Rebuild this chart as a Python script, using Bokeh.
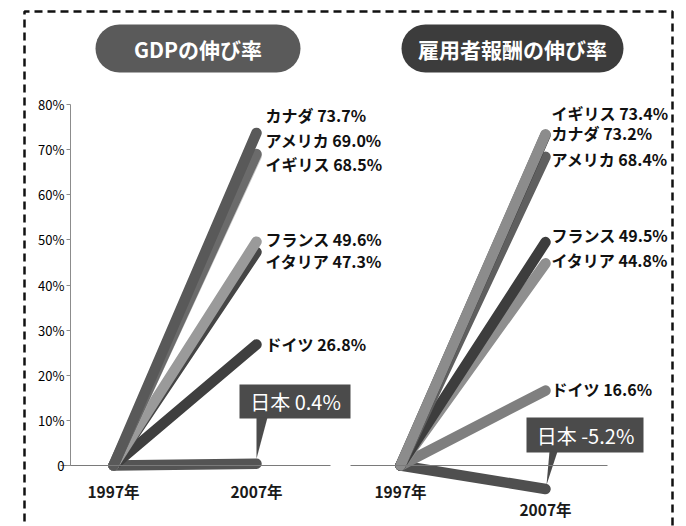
from bokeh.plotting import figure
from bokeh.models import Range1d, LinearAxis, FixedTicker, BoxAnnotation, ColumnDataSource, Grid
from bokeh.core.properties import value
from bokeh.embed import file_html
from bokeh.resources import INLINE

# ---------------- data ----------------
years = [1997, 2007]
year_labels = ["1997年", "2007年"]

gdp_countries = ["日本", "ドイツ", "イタリア", "フランス", "イギリス", "アメリカ", "カナダ"]
gdp_growth = [0.4, 26.8, 47.3, 49.6, 68.5, 69.0, 73.7]

comp_countries = ["日本", "ドイツ", "イタリア", "フランス", "アメリカ", "カナダ", "イギリス"]
comp_growth = [-5.2, 16.6, 44.8, 49.5, 68.4, 73.2, 73.4]

y_ticks = [0, 10, 20, 30, 40, 50, 60, 70, 80]
y_tick_labels = ["0", "10%", "20%", "30%", "40%", "50%", "60%", "70%", "80%"]

panel_titles = ["GDPの伸び率", "雇用者報酬の伸び率"]

# ---------------- styles / layout ----------------
FONT = "Noto Sans CJK JP"
gdp_colors = ["#545454", "#3f3f3f", "#454545", "#9a9a9a", "#c6c6c6", "#6b6b6b", "#595959"]
comp_colors = ["#4f4f4f", "#7f7f7f", "#8f8f8f", "#3d3d3d", "#5f5f5f", "#303030", "#8c8c8c"]
# label nudges in pixels (screen y, down positive), Japan uses a callout
gdp_label_dy = [0, -1, 9, -3, 8, -14, -18]
comp_label_dy = [0, -2, -3, -7, 2, -2, -21]

W, H = 686, 526
Y0_PX, PX_PER_PCT = 465.0, 4.5125
L_X0, L_KX = 113.0, 14.3
R_X0, R_KX = 400.0, 14.5


def ly(py):
    return (Y0_PX - py) / PX_PER_PCT


def lx(px):
    return years[0] + (px - L_X0) / L_KX


def rx(px):
    return years[0] + (px - R_X0) / R_KX


p = figure(width=W, height=H, output_backend="svg", toolbar_location=None,
           x_range=Range1d(lx(0), lx(W)), y_range=Range1d(ly(H), ly(0)),
           x_axis_location=None, y_axis_location=None, min_border=0,
           background_fill_color="white", border_fill_color="white")
p.outline_line_color = None
p.extra_x_ranges = {"r": Range1d(rx(0), rx(W))}

# dashed frame
p.line([lx(24), lx(24), lx(672), lx(672)], [ly(560), ly(11), ly(11), ly(560)],
       line_color="#111111", line_width=2.5, line_dash="8 5")

# title pills
pill_specs = [(95, 300, "#5a5a5a"), (401, 623, "#3c3c3c")]
for (a, b, c) in pill_specs:
    p.add_layout(BoxAnnotation(left=lx(a), right=lx(b), top=ly(24), bottom=ly(72),
                               fill_color=c, fill_alpha=1, line_color=None, border_radius=24,
                               level="underlay"))
p.text(x=[lx((a + b) / 2) for a, b, _ in pill_specs], y=[ly(48)] * 2, text=panel_titles,
       text_color="white", text_font=value(FONT), text_font_style="bold",
       text_font_size="21px", text_align="center", text_baseline="middle", level="overlay")

# ---------------- axes ----------------
ya = LinearAxis(fixed_location=lx(70), bounds=(y_ticks[0], y_ticks[-1]),
                ticker=FixedTicker(ticks=y_ticks, minor_ticks=[]),
                major_label_overrides={t: s for t, s in zip(y_ticks, y_tick_labels)})
ya.axis_line_color = "#8c8c8c"
ya.major_tick_line_color = "#8c8c8c"
ya.major_tick_out = 4
ya.major_tick_in = 0
ya.minor_tick_line_color = None
ya.major_label_text_font = FONT
ya.major_label_text_font_size = "13px"
ya.major_label_text_color = "#000000"
ya.major_label_standoff = 2
p.add_layout(ya, "left")


def style_x(ax):
    ax.axis_line_color = "#7a7a7a"
    ax.major_tick_line_color = None
    ax.major_tick_out = 0
    ax.major_tick_in = 0
    ax.minor_tick_line_color = None
    ax.major_label_text_font = FONT
    ax.major_label_text_font_style = "bold"
    ax.major_label_text_font_size = "15.5px"
    ax.major_label_text_color = "#1a1a1a"
    ax.major_label_standoff = 14


xa_l = LinearAxis(fixed_location=0, bounds=(lx(60), lx(330)),
                  ticker=FixedTicker(ticks=years, minor_ticks=[]),
                  major_label_overrides={y: s for y, s in zip(years, year_labels)})
style_x(xa_l)
p.add_layout(xa_l, "below")

xa_r = LinearAxis(x_range_name="r", fixed_location=0, bounds=(rx(350), rx(607)),
                  ticker=FixedTicker(ticks=[years[0]], minor_ticks=[]),
                  major_label_overrides={years[0]: year_labels[0]})
style_x(xa_r)
p.add_layout(xa_r, "below")

for g in p.select(type=Grid):
    g.visible = False

# right panel: 2007 label placed under Japan's end point
p.text(x=[years[1]], y=[min(0, min(comp_growth))], text=[year_labels[1]], x_range_name="r",
       y_offset=20, text_color="#1a1a1a", text_font=value(FONT), text_font_style="bold",
       text_font_size="15.5px", text_align="center", text_baseline="middle")

# ---------------- lines ----------------
for names, vals, cols, rng in [(gdp_countries, gdp_growth, gdp_colors, "default"),
                               (comp_countries, comp_growth, comp_colors, "r")]:
    n = len(vals)
    src = ColumnDataSource(dict(x0=[years[0]] * n, y0=[0] * n, x1=[years[1]] * n,
                                y1=vals, color=cols))
    p.segment("x0", "y0", "x1", "y1", source=src, line_color="color", line_width=10.5,
              line_cap="round", x_range_name=rng)

# ---------------- country labels ----------------
for names, vals, dys, rng, xoff in [(gdp_countries, gdp_growth, gdp_label_dy, "default", 9),
                                    (comp_countries, comp_growth, comp_label_dy, "r", 6)]:
    idx = [i for i, c in enumerate(names) if c != "日本"]
    p.text(x=[years[1]] * len(idx), y=[vals[i] for i in idx],
           text=[f"{names[i]} {vals[i]:.1f}%" for i in idx],
           y_offset=[dys[i] for i in idx], x_offset=xoff, x_range_name=rng,
           text_color="#111111", text_font=value(FONT), text_font_style="bold",
           text_font_size="16px", text_align="left", text_baseline="middle")

# ---------------- Japan callouts ----------------
BOX_COLOR = "#4b4b4b"
jp_l = gdp_growth[gdp_countries.index("日本")]
jp_r = comp_growth[comp_countries.index("日本")]

# left callout (box in pixel layout, tip at data point)
p.quad(left=[lx(239)], right=[lx(350)], top=[ly(384)], bottom=[ly(418)],
       fill_color=BOX_COLOR, line_color=None)
tip_l_y = jp_l + 5 / PX_PER_PCT
p.patch([years[1], years[1] + 11 / L_KX, years[1]], [ly(417), ly(417), tip_l_y],
        fill_color=BOX_COLOR, line_color=None)
p.text(x=[lx(295)], y=[ly(401)], text=[f"日本 {jp_l:.1f}%"], text_color="white",
       text_font=value(FONT), text_font_size="20px", text_align="center",
       text_baseline="middle")

# right callout
p.quad(left=[rx(526)], right=[rx(643)], top=[ly(417)], bottom=[ly(452)],
       fill_color=BOX_COLOR, line_color=None, x_range_name="r")
tip_r_y = jp_r + 4 / PX_PER_PCT
p.patch([years[1] + 4 / R_KX, years[1] + 12 / R_KX, years[1] + 1 / R_KX],
        [ly(451), ly(451), tip_r_y], fill_color=BOX_COLOR, line_color=None, x_range_name="r")
p.text(x=[rx(585)], y=[ly(434.5)], text=[f"日本 {jp_r:.1f}%"], text_color="white",
       text_font=value(FONT), text_font_size="20px", text_align="center",
       text_baseline="middle", x_range_name="r")

open("out.html", "w").write(file_html(p, INLINE))
